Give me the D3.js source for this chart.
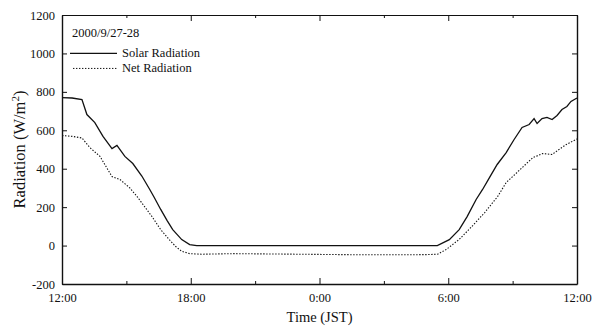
<!DOCTYPE html>
<html>
<head>
<meta charset="utf-8">
<script src="https://cdn.jsdelivr.net/npm/d3@7"></script>
<style>
  body { margin: 0; background: #fff; }
  svg text { font-family: "Liberation Serif", "Times New Roman", "DejaVu Serif", serif; fill: #111; }
  .axis path, .axis line { stroke: #111; }
  .axis text { font-size: 12.5px; }
</style>
</head>
<body>
<svg id="chart"></svg>
<script>
// hours after 12:00 on 2000/9/27
const solarHours = [0, 0.47, 0.93, 1.16, 1.53, 1.91, 2.33, 2.56, 2.93, 3.3, 3.72, 4.09, 4.3, 4.6, 4.9, 5.16, 5.58, 5.95, 6.28,
  8, 10, 12, 14, 16, 17.49, 18.05, 18.51, 18.88, 19.3, 19.6, 19.9, 20.28, 20.7, 21.07, 21.44, 21.77, 22.0, 22.14, 22.37,
  22.6, 22.84, 23.07, 23.3, 23.53, 23.72, 24];
const solarValues = [770, 768, 760, 682, 640, 568, 505, 521, 464, 427, 362, 292, 250, 188, 130, 83, 31, 5, 0,
  0, 0, 0, 0, 0, 0, 31, 83, 151, 240, 292, 350, 422, 484, 552, 615, 630, 661, 635, 661,
  667, 656, 677, 708, 724, 750, 768];

const netHours = [0, 0.5, 0.93, 1.3, 1.77, 2.33, 2.7, 3.16, 3.5, 3.8, 4.2, 4.6, 5.0, 5.3, 5.58, 5.95, 6.5,
  8, 10, 12, 14, 16, 17.0, 17.5, 17.9, 18.5, 19.1, 19.7, 20.3, 20.7, 21.2, 21.6, 21.95, 22.4, 22.84, 23.16, 23.5, 24];
const netValues = [573, 568, 560, 510, 464, 359, 344, 300, 255, 210, 150, 83, 31, -5, -30, -42, -45,
  -42, -44, -46, -48, -48, -47, -45, -21, 31, 99, 172, 255, 328, 380, 422, 458, 479, 474, 500, 526, 555];

const xTicks = [0, 6, 12, 18, 24];
const xTickLabels = ["12:00", "18:00", "0:00", "6:00", "12:00"];
const xMinorTicks = [3, 9, 15, 21];
const yTicks = [-200, 0, 200, 400, 600, 800, 1000, 1200];

const width = 595, height = 326;
const margin = {top: 15, right: 18, bottom: 42, left: 62};
const w = width - margin.left - margin.right;
const h = height - margin.top - margin.bottom;

const svg = d3.select('#chart').attr('width', width).attr('height', height);
const g = svg.append('g').attr('transform', `translate(${margin.left},${margin.top})`);

const x = d3.scaleLinear().domain([0, 24]).range([0, w]);
const y = d3.scaleLinear().domain([-200, 1200]).range([h, 0]);

// d3 puts sans-serif on the axis group, switch it back
const serifAxis = a => a.attr('font-family', null).attr('font-size', null);

// axes, ticks pointing inward
g.append('g').attr('class', 'axis')
  .attr('transform', `translate(0,${h})`)
  .call(d3.axisBottom(x).tickValues(xTicks).tickFormat((d, i) => xTickLabels[i])
    .tickSizeInner(-6).tickSizeOuter(0).tickPadding(9))
  .call(serifAxis)
  .call(a => a.select('.domain').attr('stroke-width', 1.4));
g.append('g').attr('class', 'axis')
  .attr('transform', `translate(0,${h})`)
  .call(d3.axisBottom(x).tickValues(xMinorTicks).tickFormat('').tickSizeInner(-3).tickSizeOuter(0))
  .call(a => a.select('.domain').remove());
g.append('g').attr('class', 'axis')
  .call(d3.axisTop(x).tickValues(xTicks).tickFormat('').tickSizeInner(-6).tickSizeOuter(0))
  .call(a => a.select('.domain').attr('stroke-width', 1.2));
g.append('g').attr('class', 'axis')
  .call(d3.axisTop(x).tickValues(xMinorTicks).tickFormat('').tickSizeInner(-3).tickSizeOuter(0))
  .call(a => a.select('.domain').remove());

g.append('g').attr('class', 'axis')
  .call(d3.axisLeft(y).tickValues(yTicks).tickFormat(d => String(d))
    .tickSizeInner(-5).tickSizeOuter(0).tickPadding(7))
  .call(serifAxis)
  .call(a => a.select('.domain').attr('stroke-width', 1.4));
g.append('g').attr('class', 'axis')
  .attr('transform', `translate(${w},0)`)
  .call(d3.axisRight(y).tickValues(yTicks).tickFormat('').tickSizeInner(-5).tickSizeOuter(0))
  .call(a => a.select('.domain').attr('stroke-width', 1.4));

// lines
const line = d3.line().x(d => x(d[0])).y(d => y(d[1]));
g.append('path')
  .datum(d3.zip(solarHours, solarValues))
  .attr('fill', 'none').attr('stroke', '#111').attr('stroke-width', 1.3)
  .attr('d', line);
g.append('path')
  .datum(d3.zip(netHours, netValues))
  .attr('fill', 'none').attr('stroke', '#111').attr('stroke-width', 1.1)
  .attr('stroke-dasharray', '1.4,1.6')
  .attr('d', line);

// legend
g.append('text').attr('x', 10).attr('y', 22).attr('font-size', 12.5).text('2000/9/27-28');
g.append('line').attr('x1', 8).attr('x2', 55).attr('y1', y(1000)).attr('y2', y(1000))
  .attr('stroke', '#111').attr('stroke-width', 1.2);
g.append('text').attr('x', 60).attr('y', y(1000) + 4).attr('font-size', 12.5).text('Solar Radiation');
g.append('line').attr('x1', 11).attr('x2', 55).attr('y1', y(1000) + 15).attr('y2', y(1000) + 15)
  .attr('stroke', '#111').attr('stroke-width', 1).attr('stroke-dasharray', '1.4,1.6');
g.append('text').attr('x', 60).attr('y', y(1000) + 19).attr('font-size', 12.5).text('Net Radiation');

// axis titles
svg.append('text')
  .attr('transform', `translate(25,${margin.top + h / 2}) rotate(-90)`)
  .attr('text-anchor', 'middle').attr('font-size', 16.5)
  .html('Radiation (W/m<tspan dy="-6" font-size="11">2</tspan><tspan dy="6">)</tspan>');
svg.append('text')
  .attr('x', margin.left + w / 2).attr('y', 322)
  .attr('text-anchor', 'middle').attr('font-size', 14.5)
  .text('Time (JST)');
</script>
</body>
</html>
